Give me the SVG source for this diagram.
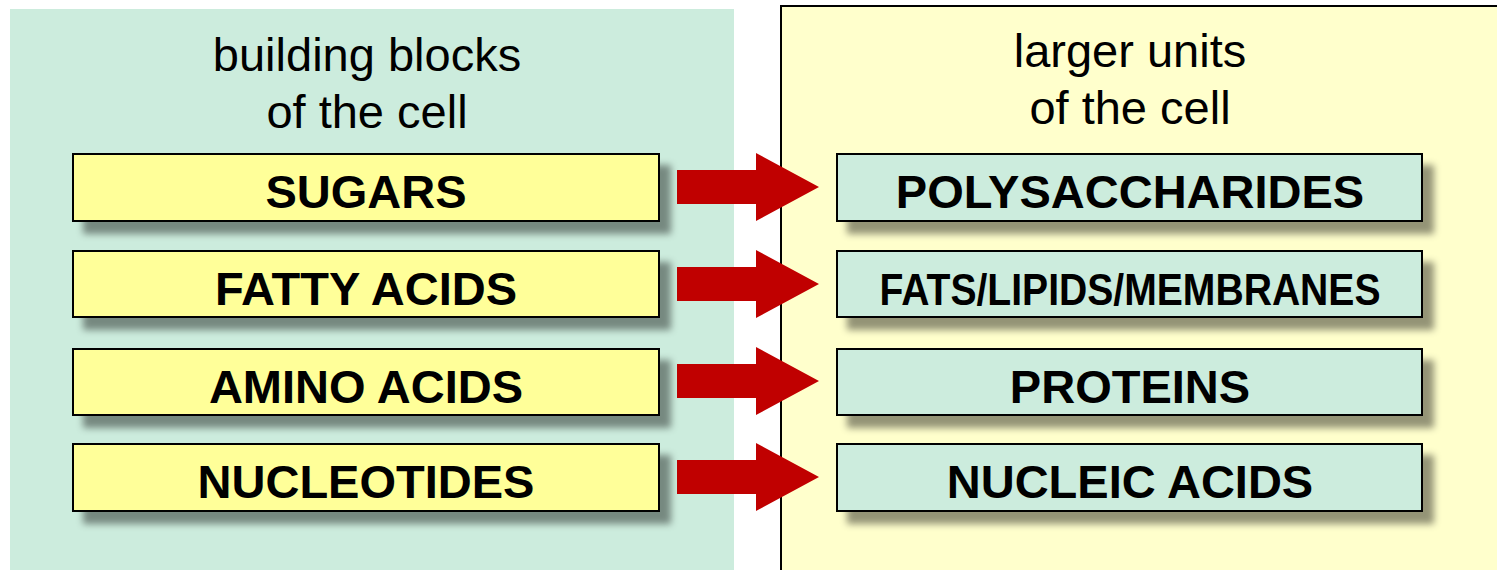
<svg xmlns="http://www.w3.org/2000/svg" width="1497" height="570" viewBox="0 0 1497 570">
<defs>
<filter id="sh" x="-10%" y="-30%" width="130%" height="180%">
<feDropShadow dx="11" dy="12" stdDeviation="3.5" flood-color="#000" flood-opacity="0.42"/>
</filter>
<path id="arr" d="M0,-17 H79 V-34 L142,0 L79,34 V17 H0 Z"/>
</defs>
<style>
.title{font-family:"Liberation Sans",Arial,sans-serif;font-size:47px;fill:#000;text-anchor:middle}
.lbl{font-family:"Liberation Sans",Arial,sans-serif;font-size:47px;font-weight:bold;fill:#000;text-anchor:middle}
.lb{fill:#FFFF99;stroke:#000;stroke-width:2;filter:url(#sh)}
.rb{fill:#CCECDD;stroke:#000;stroke-width:2;filter:url(#sh)}
.arrow{fill:#C00000}
</style>
<rect width="1497" height="570" fill="#fff"/>
<g id="panel-left">
<rect x="10" y="9" width="724" height="570" fill="#CCECDD"/>
<text class="title" x="367" y="71">building blocks</text>
<text class="title" x="367" y="128">of the cell</text>
</g>
<g id="panel-right">
<rect x="781" y="6" width="800" height="600" fill="#FFFFCC" stroke="#000" stroke-width="2"/>
<text class="title" x="1130" y="67">larger units</text>
<text class="title" x="1130" y="124">of the cell</text>
</g>
<g id="connectors">
<use href="#arr" class="arrow" x="677" y="187"/>
<use href="#arr" class="arrow" x="677" y="284"/>
<use href="#arr" class="arrow" x="677" y="381"/>
<use href="#arr" class="arrow" x="677" y="477"/>
</g>
<g id="sugars"><rect class="lb" x="73" y="154" width="586" height="67"/><text class="lbl" x="366" y="208">SUGARS</text></g>
<g id="fatty-acids"><rect class="lb" x="73" y="251" width="586" height="66"/><text class="lbl" x="366" y="305">FATTY ACIDS</text></g>
<g id="amino-acids"><rect class="lb" x="73" y="349" width="586" height="66"/><text class="lbl" x="366" y="403">AMINO ACIDS</text></g>
<g id="nucleotides"><rect class="lb" x="73" y="444" width="586" height="67"/><text class="lbl" x="366" y="498">NUCLEOTIDES</text></g>
<g id="polysaccharides"><rect class="rb" x="837" y="154" width="585" height="67"/><text class="lbl" x="1130" y="208">POLYSACCHARIDES</text></g>
<g id="fats"><rect class="rb" x="837" y="251" width="585" height="66"/><text class="lbl" x="1130" y="305" style="font-size:44px" textLength="501" lengthAdjust="spacingAndGlyphs">FATS/LIPIDS/MEMBRANES</text></g>
<g id="proteins"><rect class="rb" x="837" y="349" width="585" height="66"/><text class="lbl" x="1130" y="403">PROTEINS</text></g>
<g id="nucleic-acids"><rect class="rb" x="837" y="444" width="585" height="67"/><text class="lbl" x="1130" y="498">NUCLEIC ACIDS</text></g>
</svg>
